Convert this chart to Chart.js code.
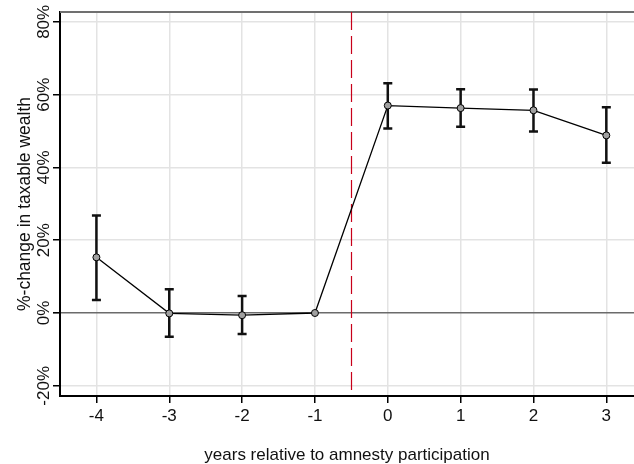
<!DOCTYPE html>
<html>
<head>
<meta charset="utf-8">
<script src="https://cdn.jsdelivr.net/npm/chart.js@4"></script>
<style>
  html, body { margin: 0; padding: 0; background: #fff; }
  #chart { display: block; }
</style>
</head>
<body>
<canvas id="chart" width="634" height="464"></canvas>
<script>
// Event-study data
const years = [-4, -3, -2, -1, 0, 1, 2, 3];
const effect = [15.3, -0.1, -0.6, 0, 57.0, 56.3, 55.7, 48.8];
const ciLow = [3.6, -6.5, -5.8, null, 50.7, 51.2, 49.9, 41.3];
const ciHigh = [26.8, 6.5, 4.7, null, 63.1, 61.5, 61.4, 56.5];

const xTicks = [-4, -3, -2, -1, 0, 1, 2, 3];
const yTicks = [-20, 0, 20, 40, 60, 80];
const eventLine = -0.5;

const FONT = 'Liberation Sans, Arial, sans-serif';

// Error bars, event line and top frame
const extras = {
  id: 'extras',
  beforeDatasetsDraw(chart) {
    const { ctx, chartArea, scales: { x, y } } = chart;
    ctx.save();

    // top frame line
    ctx.strokeStyle = '#707070';
    ctx.lineWidth = 2;
    ctx.beginPath();
    ctx.moveTo(chartArea.left, chartArea.top);
    ctx.lineTo(chartArea.right, chartArea.top);
    ctx.stroke();

    // dashed event line
    const ex = Math.round(x.getPixelForValue(eventLine)) + 0.5;
    ctx.strokeStyle = '#c8001a';
    ctx.lineWidth = 1.2;
    ctx.setLineDash([18, 6]);
    ctx.beginPath();
    ctx.moveTo(ex, chartArea.top);
    ctx.lineTo(ex, chartArea.bottom);
    ctx.stroke();
    ctx.setLineDash([]);

    // confidence intervals
    ctx.strokeStyle = '#111';
    ctx.lineWidth = 2.5;
    years.forEach((yr, i) => {
      if (ciLow[i] == null) return;
      const px = x.getPixelForValue(yr);
      const lo = y.getPixelForValue(ciLow[i]);
      const hi = y.getPixelForValue(ciHigh[i]);
      ctx.beginPath();
      ctx.moveTo(px, hi);
      ctx.lineTo(px, lo);
      ctx.moveTo(px - 4.5, hi);
      ctx.lineTo(px + 4.5, hi);
      ctx.moveTo(px - 4.5, lo);
      ctx.lineTo(px + 4.5, lo);
      ctx.stroke();
    });
    ctx.restore();
  }
};

new Chart(document.getElementById('chart'), {
  type: 'line',
  data: {
    datasets: [{
      data: years.map((yr, i) => ({ x: yr, y: effect[i] })),
      borderColor: '#000',
      borderWidth: 1.3,
      pointRadius: 3.5,
      pointBackgroundColor: '#a0a0a0',
      pointBorderColor: '#000',
      pointBorderWidth: 1,
      tension: 0
    }]
  },
  options: {
    responsive: false,
    animation: false,
    devicePixelRatio: 1,
    layout: { autoPadding: false, padding: { top: 12, right: 0, left: 0, bottom: 0 } },
    plugins: {
      legend: { display: false },
      tooltip: { enabled: false }
    },
    scales: {
      x: {
        type: 'linear',
        min: -4.5,
        max: 3.38,
        afterBuildTicks: s => { s.ticks = xTicks.map(v => ({ value: v })); },
        afterFit: s => { s.height = 68; },
        grid: {
          color: '#e3e3e3',
          lineWidth: 1.5,
          tickColor: '#000',
          tickLength: 7
        },
        border: { color: '#000', width: 2 },
        ticks: {
          color: '#111',
          font: { family: FONT, size: 17 },
          padding: 3,
          maxRotation: 0,
          callback: v => String(v)
        },
        title: {
          display: true,
          text: 'years relative to amnesty participation',
          color: '#111',
          font: { family: FONT, size: 17, lineHeight: 1 },
          padding: { top: 0, bottom: 0 }
        }
      },
      y: {
        min: -22.8,
        max: 82.7,
        afterBuildTicks: s => { s.ticks = yTicks.map(v => ({ value: v })); },
        afterFit: s => { s.width = 60; },
        grid: {
          color: c => (c.tick && c.tick.value === 0) ? '#6b6b6b' : '#e3e3e3',
          lineWidth: c => (c.tick && c.tick.value === 0) ? 1.6 : 1.5,
          tickColor: '#000',
          tickLength: 7
        },
        border: { color: '#000', width: 2 },
        ticks: {
          color: '#111',
          font: { family: FONT, size: 17 },
          minRotation: 90,
          maxRotation: 90,
          crossAlign: 'center',
          padding: -11,
          callback: v => v + '%'
        },
        title: {
          display: true,
          text: '%-change in taxable wealth',
          color: '#111',
          font: { family: FONT, size: 17.5, lineHeight: 1 },
          padding: { top: 16, bottom: 0 }
        }
      }
    }
  },
  plugins: [extras]
});
</script>
</body>
</html>
